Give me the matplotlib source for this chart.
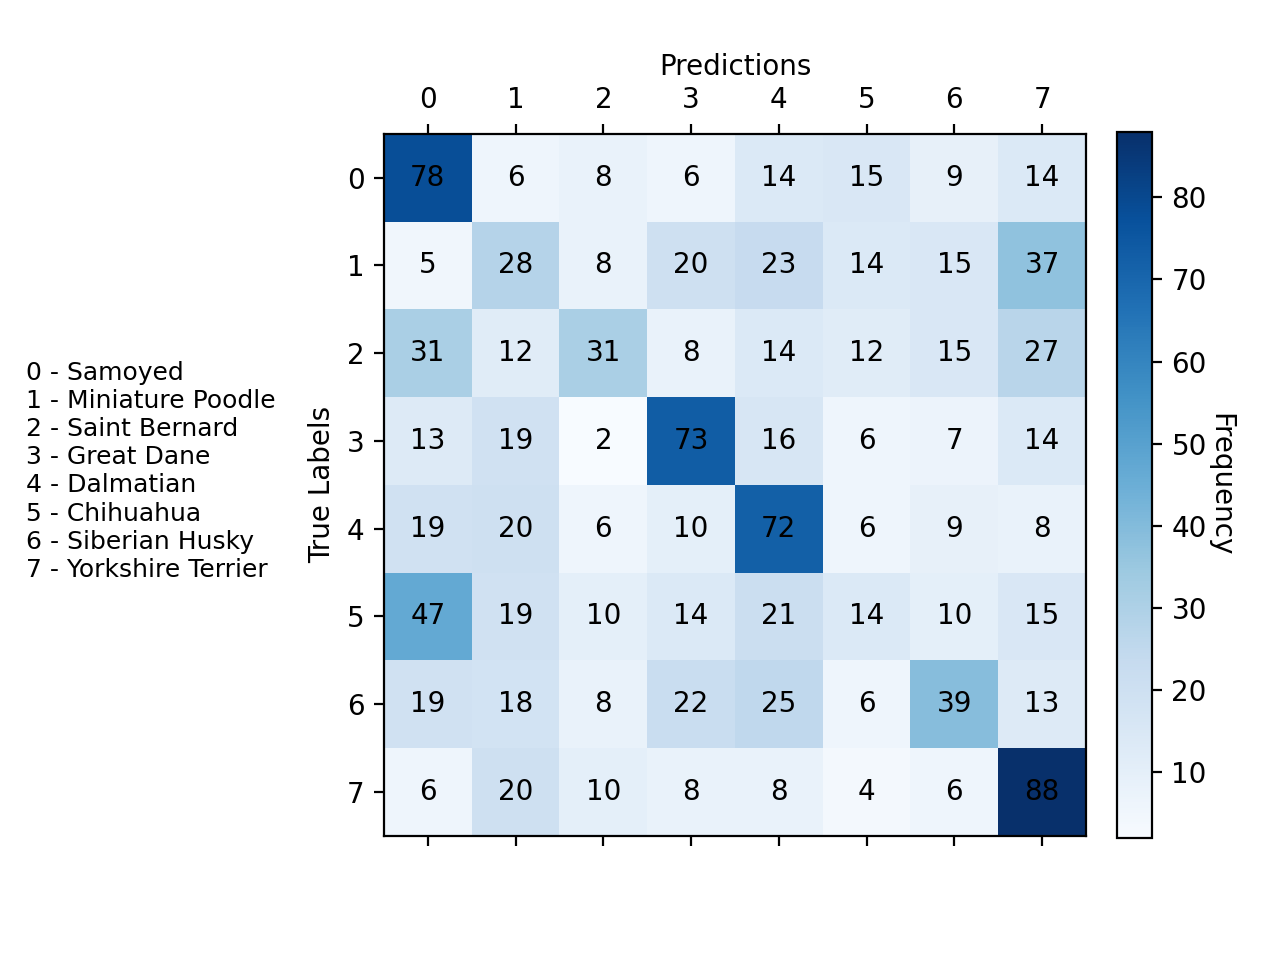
import numpy as np
import matplotlib.pyplot as plt

# Class names for the legend text
class_names = ['Samoyed', 'Miniature Poodle', 'Saint Bernard', 'Great Dane',
               'Dalmatian', 'Chihuahua', 'Siberian Husky', 'Yorkshire Terrier']

# Confusion matrix values (rows = true labels, cols = predictions)
row0 = [78, 6, 8, 6, 14, 15, 9, 14]
row1 = [5, 28, 8, 20, 23, 14, 15, 37]
row2 = [31, 12, 31, 8, 14, 12, 15, 27]
row3 = [13, 19, 2, 73, 16, 6, 7, 14]
row4 = [19, 20, 6, 10, 72, 6, 9, 8]
row5 = [47, 19, 10, 14, 21, 14, 10, 15]
row6 = [19, 18, 8, 22, 25, 6, 39, 13]
row7 = [6, 20, 10, 8, 8, 4, 6, 88]

cm = np.array([row0, row1, row2, row3, row4, row5, row6, row7])

fig, ax = plt.subplots(figsize=(6.4, 4.8), dpi=200)
cax = ax.matshow(cm, cmap='Blues')
cbar = fig.colorbar(cax, fraction=0.046, pad=0.04)
cbar.set_label('Frequency', rotation=270, labelpad=10)

# Annotate each cell
for i in range(cm.shape[0]):
    for j in range(cm.shape[1]):
        ax.text(j, i, str(cm[i, j]), ha='center', va='center', color='black')

ax.set_xticks(range(len(class_names)))
ax.set_yticks(range(len(class_names)))
ax.set_xlabel('Predictions')
ax.xaxis.set_label_position('top')
ax.set_ylabel('True Labels')

# Legend with class indices on the left
legend_text = '\n'.join(f'{i} - {name}' for i, name in enumerate(class_names))
fig.text(0.02, 0.509, legend_text, fontsize=9, linespacing=1.22,
         va='center', ha='left')

plt.subplots_adjust(left=0.3)
plt.savefig('out.png')
plt.close()
